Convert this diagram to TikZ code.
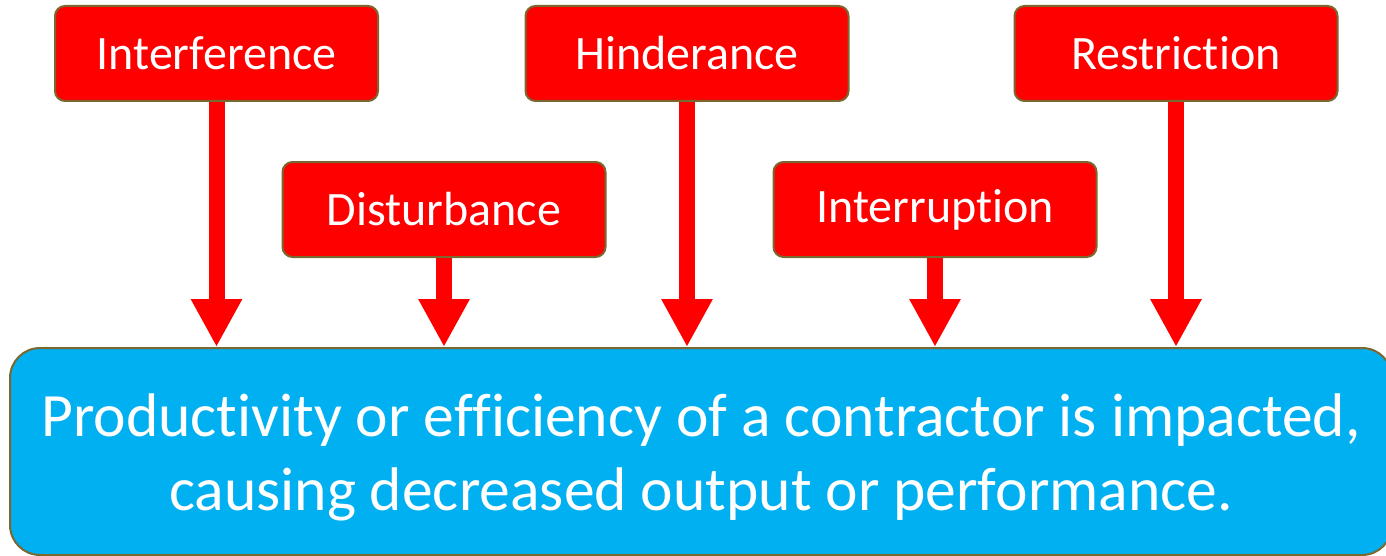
\documentclass[tikz,border=0pt]{standalone}
\usepackage{fontspec}
\setmainfont{Carlito}[Script=Latin,RawFeature={-liga;-clig;-dlig;-calt;-ccmp;-rlig;-hlig}]
\usepackage{tikz}
\usetikzlibrary{arrows.meta,positioning}

\definecolor{alarmred}{HTML}{FF0000}
\definecolor{skyfill}{HTML}{00B0F0}
\definecolor{oliveline}{HTML}{7A6830}

\begin{document}
\begin{tikzpicture}[x=0.5pt,y=-0.5pt,
  cause/.style={draw=oliveline,line width=1pt,fill=alarmred,text=white,
    rounded corners=5pt,minimum width=161.5pt,minimum height=47.5pt,
    inner sep=0pt,font=\fontsize{24}{28}\selectfont},
  effect/.style={draw=oliveline,line width=1pt,fill=skyfill,
    rounded corners=15pt,minimum width=691pt,minimum height=103.5pt,
    inner sep=0pt},
  effecttext/.style={text=white,align=center,inner sep=0pt,
    font=\fontsize{30.8}{37}\selectfont},
  push/.style={alarmred,line width=8pt,-{Triangle[length=24pt,width=24pt]}}]

\useasboundingbox (0,0) rectangle (1386,556);

% Five causes in two staggered rows
\node[cause] (interf) at (216.5,53.5) {Interference};
\node[cause] (hinder) at (687,53.5) {Hinderance};
\node[cause] (restr) at (1176,53.5) {Restriction};
\node[cause] (disturb) at (444,209.5) {Disturbance};
\node[cause] (interr) at (935,209.5) {Interruption};

% The resulting impact
\node[effect] (impact) at (701,451.5) {};
\node[effecttext,yshift=-3pt] (impacttext) at (impact.center)
  {Productivity or efficiency of a contractor is impacted,\\
   causing decreased output or performance.};

% Arrows down into the impact box
\foreach \c in {interf,disturb,hinder,interr,restr}
  \draw[push] (\c.south) -- (\c.south |- impact.north);

\end{tikzpicture}
\end{document}
